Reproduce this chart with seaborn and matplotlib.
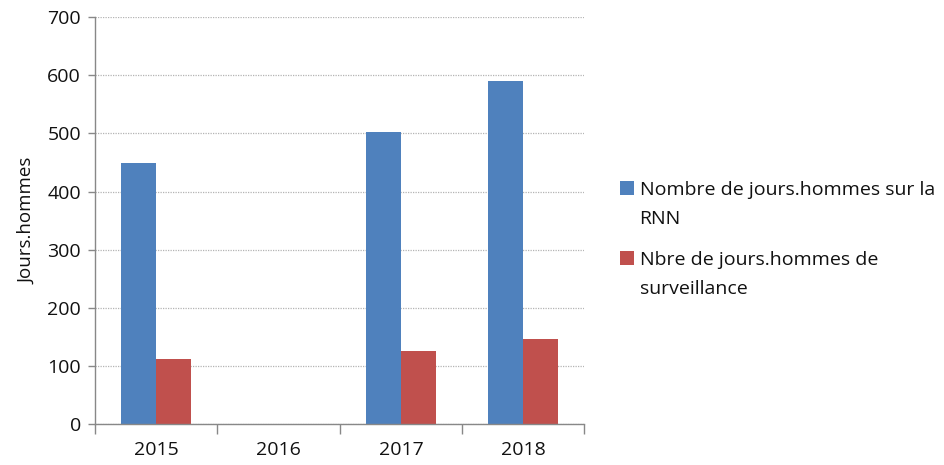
import pandas as pd
import numpy as np
import matplotlib
matplotlib.use("Agg")
import matplotlib.pyplot as plt
import seaborn as sns

# data
years = ["2015", "2016", "2017", "2018"]
rnn = [450, np.nan, 503, 590]
surveillance = [112, np.nan, 125, 147]
series_names = ["Nombre de jours.hommes sur la\nRNN",
                "Nbre de jours.hommes de\nsurveillance"]
colors = ["#4F81BD", "#C0504D"]

df = pd.DataFrame({
    "annee": years * 2,
    "serie": [series_names[0]] * 4 + [series_names[1]] * 4,
    "valeur": rnn + surveillance,
})

sns.set_style("white")
plt.rcParams["font.family"] = ["Open Sans", "DejaVu Sans"]
plt.rcParams["text.color"] = "#111111"

fig = plt.figure(figsize=(9.45, 4.65), dpi=100)
ax = fig.add_axes([0.1005, 0.088, 0.518, 0.875])

sns.barplot(data=df, x="annee", y="valeur", hue="serie", order=years,
            hue_order=series_names, palette=colors, width=0.575,
            saturation=1, linewidth=0, ax=ax, legend=True)

ax.set_ylim(0, 700)
ax.set_xlim(-0.5, 3.5)
ax.set_yticks(range(0, 701, 100))
ax.yaxis.grid(True, linestyle=(0, (1, 1)), color="#b4b4b4", linewidth=0.9)
ax.set_axisbelow(True)
ax.set_xlabel("")
ax.set_ylabel("Jours.hommes", fontsize=13.5, color="#111111", labelpad=8)

for s in ["top", "right"]:
    ax.spines[s].set_visible(False)
for s in ["left", "bottom"]:
    ax.spines[s].set_color("#888888")
    ax.spines[s].set_linewidth(1.0)

ax.tick_params(axis="y", length=5, width=1, color="#888888", labelsize=14,
               labelcolor="#111111", pad=5, left=True)
ax.tick_params(axis="x", which="major", length=0, labelsize=14,
               labelcolor="#111111", pad=12)
ax.set_xticks([-0.5, 0.5, 1.5, 2.5, 3.5], minor=True)
ax.tick_params(axis="x", which="minor", length=7, width=1, color="#888888",
               bottom=True)

handles, labels = ax.get_legend_handles_labels()
ax.get_legend().remove()
leg = fig.legend(handles, labels, loc="upper left",
                 bbox_to_anchor=(0.648, 0.627), frameon=False, fontsize=14,
                 handlelength=0.7, handleheight=0.7, handletextpad=0.3,
                 labelspacing=1.2, borderaxespad=0)
for t in leg.get_texts():
    t.set_linespacing(1.75)
for col in leg._legend_handle_box.get_children():
    for item in col.get_children():
        item.align = "top"

fig.savefig("out.png", dpi=100)
